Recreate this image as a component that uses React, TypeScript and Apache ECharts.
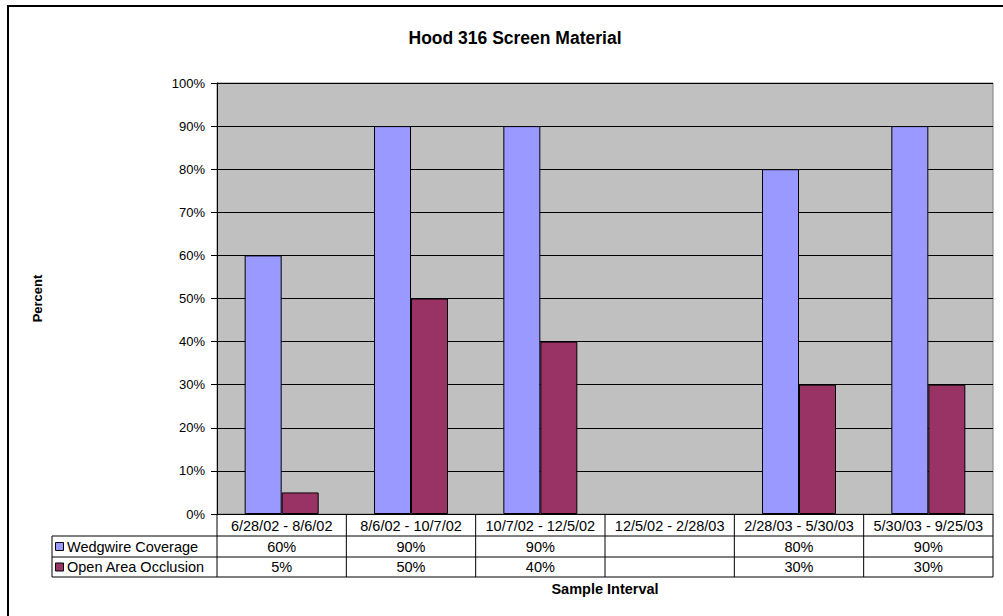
import React, { useEffect, useRef } from "react";
import * as echarts from "echarts";

const categories = [
  "6/28/02 - 8/6/02",
  "8/6/02 - 10/7/02",
  "10/7/02 - 12/5/02",
  "12/5/02 - 2/28/03",
  "2/28/03 - 5/30/03",
  "5/30/03 - 9/25/03",
];
const wedgwireCoverage: (number | null)[] = [60, 90, 90, null, 80, 90];
const openAreaOcclusion: (number | null)[] = [5, 50, 40, null, 30, 30];
const seriesNames = ["Wedgwire Coverage", "Open Area Occlusion"];
const seriesColors = ["#9999FF", "#993366"];

const FONT = "Liberation Sans, Arial, sans-serif";
const GRID = { left: 217, top: 83, right: 10, bottom: 102 };
const TABLE_FONT_SIZE = 14.5;

export default function App() {
  const ref = useRef<HTMLDivElement>(null);

  useEffect(() => {
    if (!ref.current) return;
    const chart = echarts.init(ref.current, null, { renderer: "svg" });
    const seriesData = [wedgwireCoverage, openAreaOcclusion];

    chart.setOption({
      animation: false,
      backgroundColor: "#FFFFFF",
      textStyle: { fontFamily: FONT },
      title: {
        text: "Hood 316 Screen Material",
        left: 510,
        top: 24,
        textAlign: "center",
        textStyle: { fontFamily: FONT, fontSize: 17.5, fontWeight: "bold", color: "#000" },
      },
      grid: {
        ...GRID,
        show: true,
        backgroundColor: "#C0C0C0",
        borderColor: "#808080",
        borderWidth: 1,
      },
      xAxis: {
        type: "category",
        data: categories,
        name: "Sample Interval",
        nameLocation: "middle",
        nameGap: 67,
        nameTextStyle: { fontFamily: FONT, fontSize: 14.5, fontWeight: "bold", color: "#000" },
        axisLine: { show: true, lineStyle: { color: "#000", width: 1 } },
        axisTick: { show: false },
        axisLabel: { margin: 4, fontFamily: FONT, fontSize: TABLE_FONT_SIZE, color: "#000", interval: 0 },
        splitLine: { show: false },
      },
      yAxis: {
        type: "value",
        min: 0,
        max: 100,
        interval: 10,
        name: "Percent",
        nameLocation: "middle",
        nameGap: 173,
        nameRotate: 90,
        nameTextStyle: { fontFamily: FONT, fontSize: 13, fontWeight: "bold", color: "#000" },
        axisLine: { show: true, lineStyle: { color: "#000", width: 1 } },
        axisTick: { show: true, inside: false, length: 6, lineStyle: { color: "#000" } },
        axisLabel: {
          margin: 12,
          fontFamily: FONT,
          fontSize: 13,
          color: "#000",
          formatter: (v: number) => `${v}%`,
        },
        splitLine: { show: true, lineStyle: { color: "#000", width: 1 } },
      },
      series: seriesData.map((d, i) => ({
        name: seriesNames[i],
        type: "bar",
        data: d,
        barWidth: 37,
        barGap: "0%",
        itemStyle: { color: seriesColors[i], borderColor: "#000", borderWidth: 1 },
      })),
    });

    // Data table beneath the plot, aligned to the category bands
    const xs = categories.map((c) => chart.convertToPixel({ xAxisIndex: 0 }, c) as number);
    const band = xs.length > 1 ? xs[1] - xs[0] : 100;
    const x0 = xs[0] - band / 2;
    const x1 = xs[xs.length - 1] + band / 2;
    const yAxisY = chart.convertToPixel({ yAxisIndex: 0 }, 0) as number;
    const rowH = 21;
    const rows = [yAxisY, yAxisY + rowH + 1, yAxisY + 2 * rowH + 1, yAxisY + 3 * rowH];
    const tableLeft = 52;
    const lineStyle = { stroke: "#000", lineWidth: 1 };

    const els: any[] = [];
    // outer chart border
    els.push({
      type: "rect",
      shape: { x: 8, y: 6, width: 1100, height: 700 },
      style: { fill: "none", stroke: "#000", lineWidth: 2 },
      silent: true,
    });
    // horizontal rules
    for (let r = 1; r < rows.length; r++) {
      els.push({ type: "line", shape: { x1: tableLeft, y1: rows[r], x2: x1, y2: rows[r] }, style: lineStyle });
    }
    // vertical rules
    els.push({ type: "line", shape: { x1: tableLeft, y1: rows[1], x2: tableLeft, y2: rows[3] }, style: lineStyle });
    for (let k = 0; k <= categories.length; k++) {
      const x = x0 + k * band;
      els.push({ type: "line", shape: { x1: x, y1: rows[0], x2: x, y2: rows[3] }, style: lineStyle });
    }
    // legend keys and row captions
    seriesData.forEach((d, i) => {
      const cy = (rows[i + 1] + rows[i + 2]) / 2;
      els.push({
        type: "rect",
        shape: { x: 55.5, y: cy - 4, width: 8, height: 8 },
        style: { fill: seriesColors[i], stroke: "#000", lineWidth: 1 },
      });
      els.push({
        type: "text",
        x: 67,
        y: cy,
        style: {
          text: seriesNames[i],
          font: `${TABLE_FONT_SIZE}px ${FONT}`,
          fill: "#000",
          textAlign: "left",
          textVerticalAlign: "middle",
        },
      });
      d.forEach((v, j) => {
        if (v == null) return;
        els.push({
          type: "text",
          x: xs[j],
          y: cy,
          style: {
            text: `${v}%`,
            font: `${TABLE_FONT_SIZE}px ${FONT}`,
            fill: "#000",
            textAlign: "center",
            textVerticalAlign: "middle",
          },
        });
      });
    });

    chart.setOption({ graphic: els });

    return () => chart.dispose();
  }, []);

  return (
    <div
      ref={ref}
      style={{ position: "fixed", left: 0, top: 0, width: 1003, height: 616 }}
    />
  );
}
